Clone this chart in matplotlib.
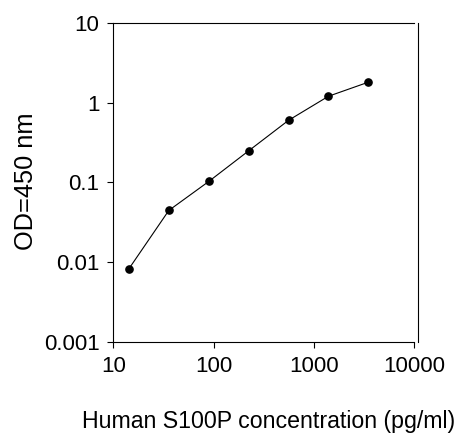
import numpy as np
import matplotlib
matplotlib.use("Agg")
import matplotlib.pyplot as plt
from matplotlib.ticker import FixedLocator, NullLocator, FixedFormatter

plt.rcParams['font.family'] = ['Liberation Sans', 'DejaVu Sans']

# standard curve
conc = [14.3, 35.8, 89.6, 224, 560, 1400, 3500]       # pg/ml
od = [0.0083, 0.0447, 0.103, 0.249, 0.60, 1.20, 1.80]  # OD at 450 nm

x_ticks = [10, 100, 1000, 10000]
x_labels = ['10', '100', '1000', '10000']
y_ticks = [0.001, 0.01, 0.1, 1, 10]
y_labels = ['0.001', '0.01', '0.1', '1', '10']

fig = plt.figure(figsize=(4.71, 4.46), dpi=100)
# axes box in pixels: x 113..414, y 23..342
ax = fig.add_axes([113.3 / 471, 1 - 342.3 / 446, (414 - 113.3) / 471, (342.3 - 22.7) / 446])

ax.plot(conc, od, color='black', linewidth=0.8, marker='o', markersize=5.2)

ax.set_xscale('log')
ax.set_yscale('log')
ax.set_xlim(10, 10000)
ax.set_ylim(0.001, 10)

ax.xaxis.set_major_locator(FixedLocator(x_ticks))
ax.xaxis.set_major_formatter(FixedFormatter(x_labels))
ax.xaxis.set_minor_locator(NullLocator())
ax.yaxis.set_major_locator(FixedLocator(y_ticks))
ax.yaxis.set_major_formatter(FixedFormatter(y_labels))
ax.yaxis.set_minor_locator(NullLocator())

ax.tick_params(direction='out', length=4, width=0.8, labelsize=16, pad=6)

for s in ax.spines.values():
    s.set_linewidth(0.8)
ax.spines['right'].set_position(('outward', 3))

ax.set_xlabel('Human S100P concentration (pg/ml)', fontsize=16.7)
ax.xaxis.set_label_coords(0.516, -0.212)
ax.set_ylabel('OD=450 nm', fontsize=18.3)
ax.yaxis.set_label_coords(-0.252, 0.505)

fig.savefig('out.png', dpi=100)
